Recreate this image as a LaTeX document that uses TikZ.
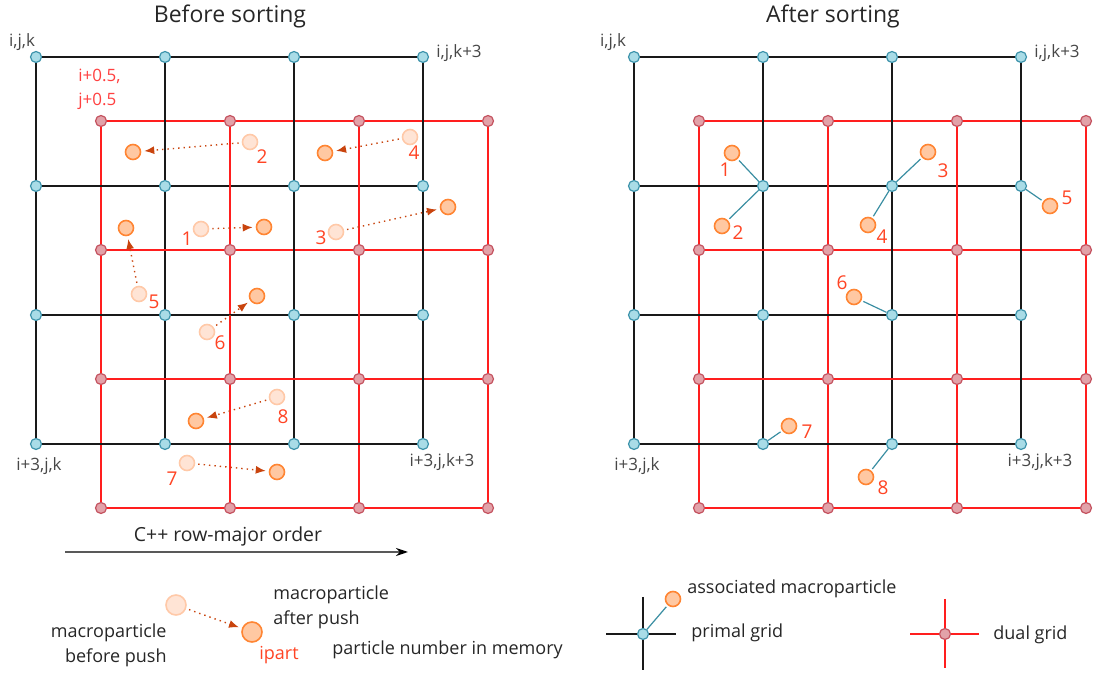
\documentclass[tikz,border=0pt]{standalone}
\usepackage{fontspec}
\setmainfont{Open Sans}
\usetikzlibrary{arrows.meta}

\definecolor{primfill}{HTML}{A9DCE7}
\definecolor{primdraw}{HTML}{3D93AB}
\definecolor{dualfill}{HTML}{E2A2A9}
\definecolor{dualdraw}{HTML}{C4525F}
\definecolor{dualred}{HTML}{FF1E1E}
\definecolor{newfill}{HTML}{FFC8A2}
\definecolor{newdraw}{HTML}{FF8533}
\definecolor{oldfill}{HTML}{FFE4D5}
\definecolor{olddraw}{HTML}{FFC9A8}
\definecolor{pushcol}{HTML}{C9440E}
\definecolor{numred}{HTML}{FF4424}
\definecolor{linkteal}{HTML}{3A8EA2}
\definecolor{lblgray}{HTML}{474747}

\tikzset{
  primnode/.style={circle, draw=primdraw, fill=primfill, line width=0.6pt, minimum size=5.5pt, inner sep=0pt},
  dualnode/.style={circle, draw=dualdraw, fill=dualfill, line width=0.6pt, minimum size=5.5pt, inner sep=0pt},
  newpart/.style={circle, draw=newdraw, fill=newfill, line width=0.8pt, minimum size=7.5pt, inner sep=0pt},
  oldpart/.style={circle, draw=olddraw, fill=oldfill, line width=0.8pt, minimum size=7.5pt, inner sep=0pt},
  primline/.style={black!90, line width=1pt},
  dualline/.style={dualred, line width=1pt},
  push/.style={-{Latex[length=5pt, width=4pt]}, pushcol, line width=0.7pt, dotted, shorten >=1.5pt, shorten <=1.5pt},
  link/.style={linkteal, line width=0.6pt, shorten <=1pt},
  partnum/.style={text=numred, font=\fontsize{9.5}{11}\selectfont, inner sep=0pt},
  cornerlbl/.style={text=lblgray, font=\fontsize{8.5}{10}\selectfont, inner sep=0pt},
  legtext/.style={text=black!85, font=\fontsize{9}{12.5}\selectfont, inner sep=0pt},
  paneltitle/.style={text=black!85, font=\fontsize{11.5}{13}\selectfont, inner sep=0pt}
}

\begin{document}
\begin{tikzpicture}[>=latex, x=0.5pt, y=-0.5pt]
  \useasboundingbox (0,0) rectangle (1094,673);

  % primal and dual grids of both panels
  \foreach \pan/\ox in {L/0, R/598} {
    \foreach \r in {0,...,3} \foreach \c in {0,...,3} {
      \node[primnode] (p\pan\r\c) at ({36+\ox+129*\c}, {57+129*\r}) {};
      \node[dualnode] (d\pan\r\c) at ({101+\ox+129*\c}, {121+129*\r}) {};
    }
    \foreach \i in {0,...,3} {
      \draw[primline] (p\pan\i0) -- (p\pan\i1) -- (p\pan\i2) -- (p\pan\i3);
      \draw[primline] (p\pan0\i) -- (p\pan1\i) -- (p\pan2\i) -- (p\pan3\i);
      \draw[dualline] (d\pan\i0) -- (d\pan\i1) -- (d\pan\i2) -- (d\pan\i3);
      \draw[dualline] (d\pan0\i) -- (d\pan1\i) -- (d\pan2\i) -- (d\pan3\i);
    }
  }

  \node[paneltitle] (titleL) at (230,16) {Before sorting};
  \node[paneltitle] (titleR) at (833,16) {After sorting};

  \node[cornerlbl] (cL1) at (22,42) {i,j,k};
  \node[cornerlbl, anchor=west] (cL2) at (436,53) {i,j,k+3};
  \node[cornerlbl] (cL3) at (39,466) {i+3,j,k};
  \node[cornerlbl] (cL4) at (442,462) {i+3,j,k+3};
  \node[cornerlbl] (cR1) at (613,42) {i,j,k};
  \node[cornerlbl, anchor=west] (cR2) at (1034,53) {i,j,k+3};
  \node[cornerlbl] (cR3) at (637,466) {i+3,j,k};
  \node[cornerlbl] (cR4) at (1040,462) {i+3,j,k+3};
  \node[cornerlbl, text=red!75!white, align=left, anchor=west, font=\fontsize{8.5}{12}\selectfont] (dualidx) at (78,89) {i+0.5,\\j+0.5};

  % before sorting: pushed macroparticles
  \node[oldpart] (oL1) at (201,229) {};
  \node[newpart] (nL1) at (264,227) {};
  \node[partnum] (tL1) at (187,239) {1};
  \node[oldpart] (oL2) at (250,142) {};
  \node[newpart] (nL2) at (133,152) {};
  \node[partnum] (tL2) at (262,157) {2};
  \node[oldpart] (oL3) at (336,232) {};
  \node[newpart] (nL3) at (448,207) {};
  \node[partnum] (tL3) at (321,238) {3};
  \node[oldpart] (oL4) at (410,137) {};
  \node[newpart] (nL4) at (325,153) {};
  \node[partnum] (tL4) at (414,153) {4};
  \node[oldpart] (oL5) at (139,294) {};
  \node[newpart] (nL5) at (126,228) {};
  \node[partnum] (tL5) at (154,302) {5};
  \node[oldpart] (oL6) at (207,332) {};
  \node[newpart] (nL6) at (257,296) {};
  \node[partnum] (tL6) at (220,343) {6};
  \node[oldpart] (oL7) at (187,463) {};
  \node[newpart] (nL7) at (277,472) {};
  \node[partnum] (tL7) at (172,479) {7};
  \node[oldpart] (oL8) at (277,397) {};
  \node[newpart] (nL8) at (196,421) {};
  \node[partnum] (tL8) at (283,417) {8};
  \draw[push] (oL1) -- (nL1);
  \draw[push] (oL2) -- (nL2);
  \draw[push] (oL3) -- (nL3);
  \draw[push] (oL4) -- (nL4);
  \draw[push] (oL5) -- (nL5);
  \draw[push] (oL6) -- (nL6);
  \draw[push] (oL7) -- (nL7);
  \draw[push] (oL8) -- (nL8);

  % after sorting: macroparticles tied to primal points
  \node[newpart] (nR1) at (732,153) {};
  \node[partnum] (tR1) at (725,170) {1};
  \node[newpart] (nR2) at (722,226) {};
  \node[partnum] (tR2) at (738,233) {2};
  \node[newpart] (nR3) at (928,152) {};
  \node[partnum] (tR3) at (943,171) {3};
  \node[newpart] (nR4) at (868,225) {};
  \node[partnum] (tR4) at (882,237) {4};
  \node[newpart] (nR5) at (1050,206) {};
  \node[partnum] (tR5) at (1067,198) {5};
  \node[newpart] (nR6) at (854,297) {};
  \node[partnum] (tR6) at (842,283) {6};
  \node[newpart] (nR7) at (789,426) {};
  \node[partnum] (tR7) at (807,432) {7};
  \node[newpart] (nR8) at (866,477) {};
  \node[partnum] (tR8) at (883,488) {8};
  \draw[link] (nR1) -- (pR11);
  \draw[link] (nR2) -- (pR11);
  \draw[link] (nR3) -- (pR12);
  \draw[link] (nR4) -- (pR12);
  \draw[link] (nR5) -- (pR13);
  \draw[link] (nR6) -- (pR22);
  \draw[link] (nR7) -- (pR31);
  \draw[link] (nR8) -- (pR32);

  % memory order
  \coordinate (rowW) at (65,552);
  \coordinate (rowE) at (408,552);
  \draw[black!65, line width=0.8pt, -{Stealth[length=6pt, width=4pt, black]}] (rowW) -- (rowE);
  \node[legtext, font=\fontsize{9.7}{11}\selectfont] (rowtxt) at (228,536) {C++ row-major order};

  % legend
  \node[oldpart, minimum size=10pt] (legold) at (176,605) {};
  \node[newpart, minimum size=10pt] (legnew) at (252,632) {};
  \draw[push] (legold) -- (legnew);
  \node[legtext, align=right, anchor=east] (legoldtxt) at (167,645) {macroparticle\\before push};
  \node[legtext, align=left, anchor=west] (legnewtxt) at (273,607) {macroparticle\\after push};
  \node[legtext, text=numred, anchor=base west] (legipart) at (259,660) {ipart};
  \node[legtext, anchor=base west] (legnum) at (332,655) {particle number in memory};

  \node[primnode] (legprim) at (643,634) {};
  \coordinate (primW) at (606,634);
  \coordinate (primE) at (676,634);
  \coordinate (primN) at (643,597);
  \coordinate (primS) at (643,670);
  \draw[primline] (primW) -- (legprim) -- (primE);
  \draw[primline] (primN) -- (legprim) -- (primS);
  \node[newpart] (legassoc) at (673,599) {};
  \draw[link] (legassoc) -- (legprim);
  \node[legtext, anchor=west] (legassoctxt) at (687,589) {associated macroparticle};
  \node[legtext, anchor=west] (legprimtxt) at (691,633) {primal grid};

  \node[dualnode] (legdual) at (945,634) {};
  \coordinate (dualW) at (910,634);
  \coordinate (dualE) at (979,634);
  \coordinate (dualN) at (945,599);
  \coordinate (dualS) at (945,668);
  \draw[dualline] (dualW) -- (legdual) -- (dualE);
  \draw[dualline] (dualN) -- (legdual) -- (dualS);
  \node[legtext, anchor=west] (legdualtxt) at (993,635) {dual grid};
\end{tikzpicture}
\end{document}
